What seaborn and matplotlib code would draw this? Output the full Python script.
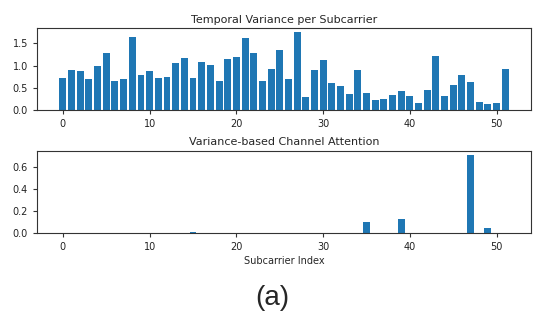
import numpy as np
import pandas as pd
import matplotlib
matplotlib.use("Agg")
import matplotlib.pyplot as plt
import seaborn as sns

subcarriers = list(range(52))
temporal_variance = [
    0.71, 0.90, 0.87, 0.69, 0.98, 1.29, 0.65, 0.69, 1.65, 0.78,
    0.87, 0.71, 0.74, 1.06, 1.16, 0.73, 1.09, 1.01, 0.65, 1.15,
    1.19, 1.61, 1.29, 0.66, 0.93, 1.34, 0.69, 1.75, 0.29, 0.91,
    1.12, 0.61, 0.54, 0.37, 0.90, 0.39, 0.23, 0.26, 0.34, 0.43,
    0.31, 0.17, 0.46, 1.21, 0.31, 0.57, 0.79, 0.64, 0.19, 0.14,
    0.17, 0.93,
]
attention = [0.0] * 52
attention[15] = 0.012
attention[35] = 0.10
attention[39] = 0.13
attention[47] = 0.715
attention[49] = 0.045

top_title = "Temporal Variance per Subcarrier"
bottom_title = "Variance-based Channel Attention"
x_label = "Subcarrier Index"
panel_label = "(a)"

sns.set_style("ticks")
plt.rcParams["font.family"] = ["DejaVu Sans"]

df = pd.DataFrame({"idx": subcarriers, "var": temporal_variance, "att": attention})

fig = plt.figure(figsize=(5.36, 3.12), dpi=100)
ax1 = fig.add_axes([0.069, 0.647, 0.922, 0.263])
ax2 = fig.add_axes([0.069, 0.253, 0.922, 0.263])

color = "#1f77b4"
sns.barplot(data=df, x="idx", y="var", ax=ax1, color=color, saturation=1,
            native_scale=True, width=0.8, edgecolor="none")
sns.barplot(data=df, x="idx", y="att", ax=ax2, color=color, saturation=1,
            native_scale=True, width=0.8, edgecolor="none")

for ax in (ax1, ax2):
    ax.set_xlim(-2.99, 53.99)
    ax.set_xticks([0, 10, 20, 30, 40, 50])
    ax.tick_params(labelsize=7, length=3, width=0.8, colors="#333333", labelcolor="#222222")
    for s in ax.spines.values():
        s.set_visible(True)
        s.set_linewidth(0.8)
        s.set_color("#333333")
    ax.set_ylabel("")
    ax.set_xlabel("")

ax1.set_yticks([0.0, 0.5, 1.0, 1.5])
ax1.set_ylim(0, 1.84)
ax2.set_yticks([0.0, 0.2, 0.4, 0.6])
ax2.set_ylim(0, 0.75)

ax1.set_title(top_title, fontsize=8, pad=4)
ax2.set_title(bottom_title, fontsize=8, pad=4)
ax2.set_xlabel(x_label, fontsize=7, labelpad=3)

fig.text(0.508, 0.045, panel_label, ha="center", va="center", fontsize=20,
         family=["Liberation Sans"])

fig.savefig("out.png", dpi=100)
